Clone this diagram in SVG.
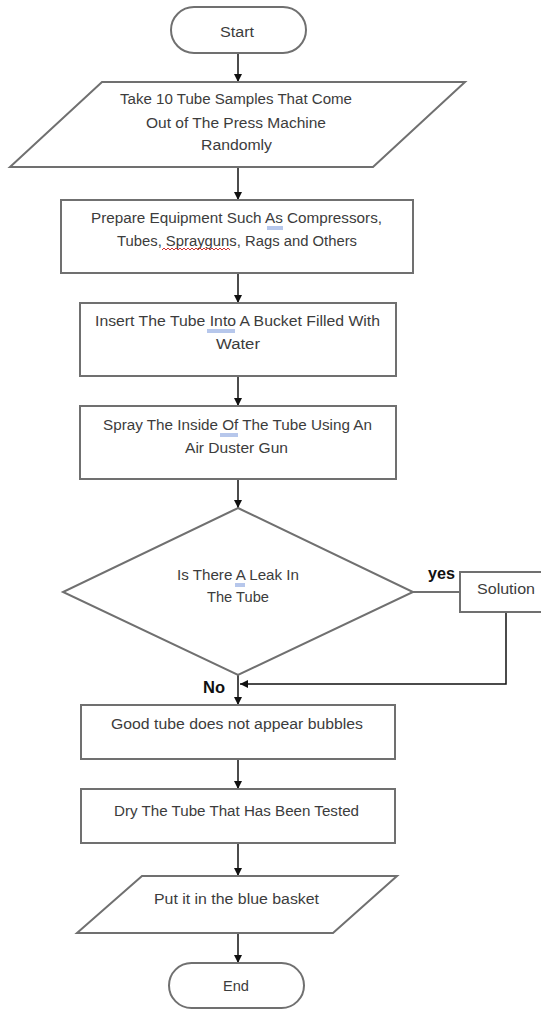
<svg xmlns="http://www.w3.org/2000/svg" width="541" height="1010" viewBox="0 0 541 1010">
<defs>
<style>
.shape{fill:#ffffff;stroke:#707070;stroke-width:2}
.t{font-family:"Liberation Sans",Arial,sans-serif;font-size:15.5px;fill:#3c3c3c}
.lbl{font-family:"Liberation Sans",Arial,sans-serif;font-size:16px;font-weight:bold;fill:#111111}
.conn{fill:none;stroke:#111111;stroke-width:1.5}
.plain{fill:none;stroke:#707070;stroke-width:2}
.blue{fill:none;stroke:#6f8fd8;stroke-width:1}
.red{fill:none;stroke:#d03030;stroke-width:1}
</style>
<marker id="arr" viewBox="0 0 10 10" refX="10" refY="5" markerWidth="8" markerHeight="8" markerUnits="userSpaceOnUse" orient="auto">
<path d="M0,0 L10,5 L0,10 z" fill="#111111"/>
</marker>
</defs>
<rect width="541" height="1010" fill="#ffffff"/>

<g id="connectors">
<line class="conn" x1="238" y1="53" x2="238" y2="82" marker-end="url(#arr)"/>
<line class="conn" x1="238" y1="167" x2="238" y2="200" marker-end="url(#arr)"/>
<line class="conn" x1="238" y1="273" x2="238" y2="303" marker-end="url(#arr)"/>
<line class="conn" x1="238" y1="376" x2="238" y2="406" marker-end="url(#arr)"/>
<line class="conn" x1="238" y1="479" x2="238" y2="508" marker-end="url(#arr)"/>
<line class="plain" x1="413" y1="592" x2="460" y2="592"/>
<polyline class="conn" points="506,612 506,684 240,684" marker-end="url(#arr)"/>
<line class="conn" x1="238" y1="675" x2="238" y2="705" marker-end="url(#arr)"/>
<line class="conn" x1="238" y1="759" x2="238" y2="789" marker-end="url(#arr)"/>
<line class="conn" x1="238" y1="843" x2="238" y2="876" marker-end="url(#arr)"/>
<line class="conn" x1="238" y1="933" x2="238" y2="963" marker-end="url(#arr)"/>
<text class="lbl" x="428" y="579" textLength="27" lengthAdjust="spacingAndGlyphs">yes</text>
<text class="lbl" x="203" y="693" textLength="22" lengthAdjust="spacingAndGlyphs">No</text>
</g>

<g id="start">
<rect class="shape" x="171" y="7" width="135" height="46" rx="23"/>
<text class="t" x="220" y="37" textLength="34" lengthAdjust="spacingAndGlyphs">Start</text>
</g>

<g id="take-samples">
<polygon class="shape" points="102,82 465,82 373,167 10,167"/>
<text class="t" x="120" y="104" textLength="232" lengthAdjust="spacingAndGlyphs">Take 10 Tube Samples That Come</text>
<text class="t" x="146" y="128" textLength="180" lengthAdjust="spacingAndGlyphs">Out of The Press Machine</text>
<text class="t" x="201" y="150" textLength="71" lengthAdjust="spacingAndGlyphs">Randomly</text>
</g>

<g id="prepare">
<rect class="shape" x="61" y="200" width="352" height="73"/>
<text class="t" x="91" y="223" textLength="291" lengthAdjust="spacingAndGlyphs">Prepare Equipment Such As Compressors,</text>
<text class="t" x="117" y="246" textLength="240" lengthAdjust="spacingAndGlyphs">Tubes, Sprayguns, Rags and Others</text>
<line class="blue" x1="267" y1="227" x2="283" y2="227"/>
<line class="blue" x1="267" y1="229" x2="283" y2="229"/>
<path class="red" d="M162,250 l2,-2 l2,2 l2,-2 l2,2 l2,-2 l2,2 l2,-2 l2,2 l2,-2 l2,2 l2,-2 l2,2 l2,-2 l2,2 l2,-2 l2,2 l2,-2 l2,2 l2,-2 l2,2 l2,-2 l2,2 l2,-2 l2,2 l2,-2 l2,2 l2,-2 l2,2 l2,-2 l2,2 l2,-2 l2,2 l2,-2 l2,2"/>
</g>

<g id="insert">
<rect class="shape" x="80" y="303" width="316" height="73"/>
<text class="t" x="95" y="326" textLength="285" lengthAdjust="spacingAndGlyphs">Insert The Tube Into A Bucket Filled With</text>
<text class="t" x="216" y="349" textLength="44" lengthAdjust="spacingAndGlyphs">Water</text>
<line class="blue" x1="207" y1="330" x2="235" y2="330"/>
<line class="blue" x1="207" y1="332" x2="235" y2="332"/>
</g>

<g id="spray">
<rect class="shape" x="80" y="406" width="316" height="73"/>
<text class="t" x="103" y="430" textLength="269" lengthAdjust="spacingAndGlyphs">Spray The Inside Of The Tube Using An</text>
<text class="t" x="185" y="453" textLength="103" lengthAdjust="spacingAndGlyphs">Air Duster Gun</text>
<line class="blue" x1="220" y1="434" x2="238" y2="434"/>
<line class="blue" x1="220" y1="436" x2="238" y2="436"/>
</g>

<g id="decision">
<polygon class="shape" points="238,508 413,592 238,675 63,592"/>
<text class="t" x="177" y="580" textLength="122" lengthAdjust="spacingAndGlyphs">Is There A Leak In</text>
<text class="t" x="207" y="602" textLength="62" lengthAdjust="spacingAndGlyphs">The Tube</text>
<line class="blue" x1="235" y1="584" x2="245" y2="584"/>
<line class="blue" x1="235" y1="586" x2="245" y2="586"/>
</g>

<g id="solution">
<rect class="shape" x="460" y="572" width="95" height="40"/>
<text class="t" x="477" y="594" textLength="58" lengthAdjust="spacingAndGlyphs">Solution</text>
</g>

<g id="good-tube">
<rect class="shape" x="81" y="705" width="314" height="54"/>
<text class="t" x="111" y="729" textLength="252" lengthAdjust="spacingAndGlyphs">Good tube does not appear bubbles</text>
</g>

<g id="dry">
<rect class="shape" x="81" y="789" width="314" height="54"/>
<text class="t" x="114" y="816" textLength="245" lengthAdjust="spacingAndGlyphs">Dry The Tube That Has Been Tested</text>
</g>

<g id="basket">
<polygon class="shape" points="142,876 397,876 333,933 77,933"/>
<text class="t" x="154" y="904" textLength="165" lengthAdjust="spacingAndGlyphs">Put it in the blue basket</text>
</g>

<g id="end">
<rect class="shape" x="169" y="963" width="135" height="45" rx="22.5"/>
<text class="t" x="223" y="991" textLength="26" lengthAdjust="spacingAndGlyphs">End</text>
</g>
</svg>
